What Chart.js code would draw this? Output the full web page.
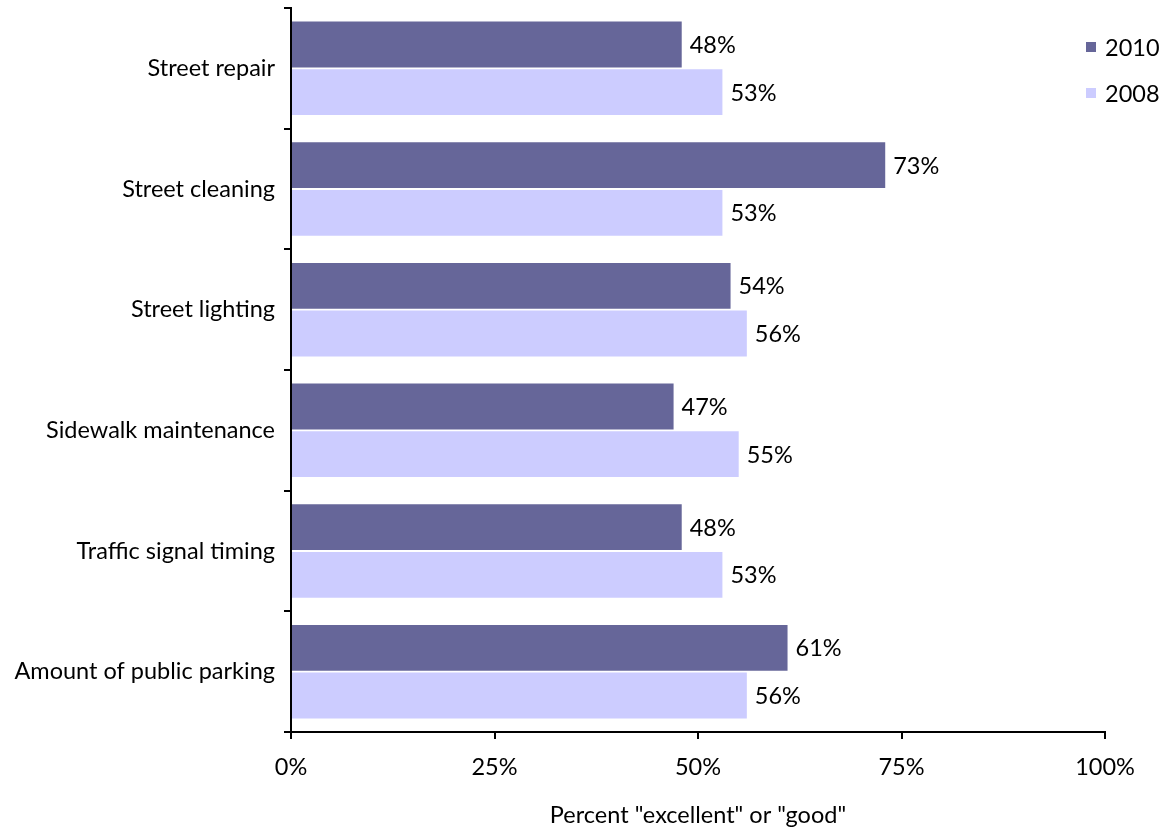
<!DOCTYPE html>
<html>
<head>
<meta charset="utf-8">
<script src="https://cdn.jsdelivr.net/npm/chart.js@4"></script>
<style>
  html, body { margin: 0; padding: 0; background: #fff; }
  #wrap { width: 1167px; height: 832px; position: relative; }
</style>
</head>
<body>
<div id="wrap"><canvas id="c" width="1167" height="832"></canvas></div>
<script>
const categories = ["Street repair", "Street cleaning", "Street lighting", "Sidewalk maintenance", "Traffic signal timing", "Amount of public parking"];
const values2010 = [48, 73, 54, 47, 48, 61];
const values2008 = [53, 53, 56, 55, 53, 56];
const seriesNames = ["2010", "2008"];
const xTicks = [0, 25, 50, 75, 100];
const axisTitle = 'Percent "excellent" or "good"';

const FONT = "Lato, 'Open Sans', sans-serif";
const FS = 23.5;

const valueLabels = {
  id: 'valueLabels',
  afterDatasetsDraw(chart) {
    const ctx = chart.ctx;
    ctx.save();
    ctx.font = FS + 'px ' + FONT;
    ctx.fillStyle = '#000';
    ctx.textAlign = 'left';
    ctx.textBaseline = 'middle';
    chart.data.datasets.forEach((ds, di) => {
      const meta = chart.getDatasetMeta(di);
      meta.data.forEach((bar, i) => {
        ctx.fillText(ds.data[i] + '%', bar.x + 8, bar.y + 1);
      });
    });
    ctx.restore();
  }
};

const customLegend = {
  id: 'customLegend',
  afterDraw(chart) {
    const ctx = chart.ctx;
    ctx.save();
    ctx.font = FS + 'px ' + FONT;
    ctx.textAlign = 'left';
    ctx.textBaseline = 'middle';
    chart.data.datasets.forEach((ds, di) => {
      const y = 47 + di * 46;
      ctx.fillStyle = ds.backgroundColor;
      ctx.fillRect(1086, y - 5, 10, 10);
      ctx.fillStyle = '#000';
      ctx.fillText(ds.label, 1105, y + 1);
    });
    ctx.restore();
  }
};

new Chart(document.getElementById('c'), {
  type: 'bar',
  data: {
    labels: categories,
    datasets: [
      { label: seriesNames[0], data: values2010, backgroundColor: '#666699', categoryPercentage: 0.79, barPercentage: 0.96 },
      { label: seriesNames[1], data: values2008, backgroundColor: '#CCCCFF', categoryPercentage: 0.79, barPercentage: 0.96 }
    ]
  },
  options: {
    indexAxis: 'y',
    responsive: false,
    animation: false,
    layout: { padding: { left: 0, right: 62, top: 8, bottom: 0 } },
    plugins: { legend: { display: false }, tooltip: { enabled: false } },
    scales: {
      x: {
        min: 0, max: 100,
        afterBuildTicks(scale) { scale.ticks = xTicks.map(v => ({ value: v })); },
        afterFit(scale) { scale.height = 100; scale.paddingLeft = 0; scale.paddingRight = 0; },
        grid: { drawOnChartArea: false, tickLength: 7, color: '#000', lineWidth: 2 },
        border: { color: '#000', width: 2 },
        ticks: {
          color: '#000', padding: 14,
          font: { family: FONT, size: FS },
          callback: v => v + '%'
        },
        title: {
          display: true, text: axisTitle, color: '#000',
          font: { family: FONT, size: FS }, padding: { top: 0, bottom: 2 }
        }
      },
      y: {
        afterFit(scale) { scale.width = 291; scale.paddingTop = 0; scale.paddingBottom = 0; },
        grid: { drawOnChartArea: false, tickLength: 7, color: '#000', lineWidth: 2, offset: true },
        border: { color: '#000', width: 2 },
        ticks: { color: '#000', padding: 9, font: { family: FONT, size: FS } }
      }
    }
  },
  plugins: [valueLabels, customLegend]
});
</script>
</body>
</html>
